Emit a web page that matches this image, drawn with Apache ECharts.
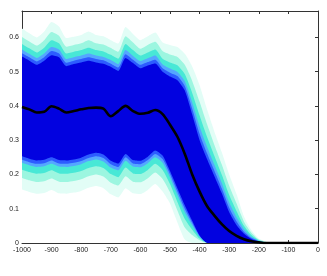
<!DOCTYPE html>
<html><head><meta charset="utf-8">
<script src="https://cdn.jsdelivr.net/npm/echarts@6/dist/echarts.min.js"></script>
<style>html,body{margin:0;padding:0;background:#fff}#c{width:327px;height:276px}</style>
</head><body><div id="c"></div>
<script>
const xs = [-1000,-975,-950,-925,-900,-875,-850,-825,-800,-775,-750,-725,-700,-675,-650,-625,-600,-575,-550,-525,-500,-475,-450,-425,-400,-375,-350,-325,-300,-275,-250,-225,-200,-175,-150,-125,-100,-75,-50,-25,0];
const xTicks = [-1000,-900,-800,-700,-600,-500,-400,-300,-200,-100,0];
const yTicks = [0,0.1,0.2,0.3,0.4,0.5,0.6];

// median
const median = [.397,.390,.381,.383,.399,.392,.381,.385,.390,.394,.395,.392,.370,.385,.400,.385,.377,.380,.388,.376,.345,.310,.260,.200,.150,.108,.080,.055,.035,.021,.011,.005,.002,0,0,0,0,0,0,0,0];

// upper band edges (U0 = dark band top ... U5 = outer edge)
const U0 = [.544,.532,.520,.532,.548,.542,.516,.522,.527,.532,.527,.523,.514,.502,.540,.525,.510,.518,.524,.500,.486,.475,.445,.375,.300,.245,.195,.145,.090,.052,.027,.012,.004,.001,0,0,0,0,0,0,0];
const U1 = [.554,.542,.530,.542,.560,.553,.526,.532,.537,.542,.537,.533,.523,.512,.551,.535,.520,.528,.535,.510,.497,.487,.458,.392,.319,.262,.211,.159,.103,.063,.033,.015,.005,.001,0,0,0,0,0,0,0];
const U2 = [.565,.552,.540,.553,.572,.565,.537,.542,.547,.553,.547,.543,.534,.522,.563,.546,.531,.539,.547,.521,.509,.499,.472,.410,.340,.281,.228,.175,.118,.075,.040,.018,.006,.002,0,0,0,0,0,0,0];
const U3 = [.581,.568,.556,.570,.592,.583,.553,.558,.563,.570,.563,.559,.549,.538,.581,.563,.547,.556,.565,.538,.527,.519,.493,.438,.372,.310,.254,.199,.140,.093,.050,.023,.008,.002,0,0,0,0,0,0,0];
const U4 = [.601,.588,.576,.592,.616,.605,.573,.578,.583,.592,.583,.579,.569,.558,.603,.585,.567,.578,.587,.560,.550,.543,.520,.473,.412,.347,.286,.229,.167,.115,.062,.030,.010,.003,0,0,0,0,0,0,0];
const U5 = [.626,.612,.600,.617,.645,.632,.598,.602,.607,.617,.607,.603,.592,.582,.630,.610,.592,.603,.614,.585,.578,.572,.552,.515,.460,.390,.325,.265,.200,.142,.077,.037,.013,.004,0,0,0,0,0,0,0];

// lower band edges (L0 = dark band bottom ... L5 = outer edge)
const L0 = [.253,.246,.241,.243,.250,.242,.241,.244,.249,.258,.263,.258,.240,.232,.260,.242,.240,.252,.270,.255,.210,.160,.110,.065,.022,0,0,0,0,0,0,0,0,0,0,0,0,0,0,0,0];
const L1 = [.243,.236,.231,.233,.241,.232,.231,.234,.239,.248,.253,.248,.230,.222,.250,.232,.230,.242,.260,.245,.201,.150,.100,.059,.020,0,0,0,0,0,0,0,0,0,0,0,0,0,0,0,0];
const L2 = [.234,.227,.222,.224,.231,.223,.222,.225,.230,.239,.244,.238,.220,.212,.240,.223,.221,.233,.250,.234,.191,.140,.090,.052,.018,0,0,0,0,0,0,0,0,0,0,0,0,0,0,0,0];
const L3 = [.214,.207,.202,.204,.212,.203,.202,.205,.210,.219,.224,.219,.201,.192,.220,.203,.201,.213,.231,.213,.172,.120,.070,.039,.013,0,0,0,0,0,0,0,0,0,0,0,0,0,0,0,0];
const L4 = [.190,.183,.178,.180,.188,.179,.178,.181,.186,.195,.200,.194,.176,.168,.195,.179,.177,.189,.206,.187,.148,.095,.045,.023,.008,0,0,0,0,0,0,0,0,0,0,0,0,0,0,0,0];
const L5 = [.156,.149,.144,.146,.155,.145,.144,.147,.152,.161,.166,.160,.142,.133,.160,.145,.143,.155,.172,.150,.115,.060,.010,0,0,0,0,0,0,0,0,0,0,0,0,0,0,0,0,0,0];

const C = {dark:'#0202e0', blue:'#2d5cff', lblue:'#55a6ff', turq:'#48e8d6', aqua:'#9cf6e0', pale:'#e2fdf6', white:'#ffffff'};

function area(arr, color) {
  return {type:'line', data: xs.map((x,i)=>[x, arr[i]]), symbol:'none', smooth:0.2, silent:true,
    lineStyle:{width:0, opacity:0}, areaStyle:{color:color, opacity:1, origin:'start'}, z:2};
}

const series = [
  area(U5, C.pale), area(U4, C.aqua), area(U3, C.turq), area(U2, C.lblue), area(U1, C.blue), area(U0, C.dark),
  area(L0, C.blue), area(L1, C.lblue), area(L2, C.turq), area(L3, C.aqua), area(L4, C.pale), area(L5, C.white),
  {type:'line', data: xs.map((x,i)=>[x, median[i]]), symbol:'none', smooth:0.3, silent:true,
   lineStyle:{color:'#000', width:2.6}, z:5}
];

const font = {fontFamily:'Liberation Sans, Arial, sans-serif', fontSize:7, color:'#222'};
const axLine = {show:true, onZero:false, lineStyle:{color:'#333', width:1}};
const tick = {show:true, inside:true, length:3, lineStyle:{color:'#333'}};

const chart = echarts.init(document.getElementById('c'), null, {renderer:'canvas'});
chart.setOption({
  animation:false,
  backgroundColor:'#fff',
  grid:{left:22, right:9, top:11, bottom:33, containLabel:false},
  xAxis:[
    {type:'value', min:-1000, max:0, interval:100, position:'bottom', axisLine:axLine, axisTick:tick,
     splitLine:{show:false}, axisLabel:Object.assign({margin:4, formatter:v=>xTicks.includes(v)?String(v):''}, font)},
    {type:'value', min:-1000, max:0, interval:100, position:'top', axisLine:axLine, axisTick:tick,
     splitLine:{show:false}, axisLabel:{show:false}}
  ],
  yAxis:[
    {type:'value', min:0, max:0.677, interval:0.1, position:'left', axisLine:axLine, axisTick:tick,
     splitLine:{show:false}, axisLabel:Object.assign({margin:3, showMaxLabel:false,
       formatter:v=>{const t=yTicks.find(y=>Math.abs(y-v)<1e-6); return t===undefined?'':String(t);}}, font)},
    {type:'value', min:0, max:0.677, interval:0.1, position:'right', axisLine:axLine, axisTick:tick,
     splitLine:{show:false}, axisLabel:{show:false}}
  ],
  series: series
});
</script>
</body></html>
